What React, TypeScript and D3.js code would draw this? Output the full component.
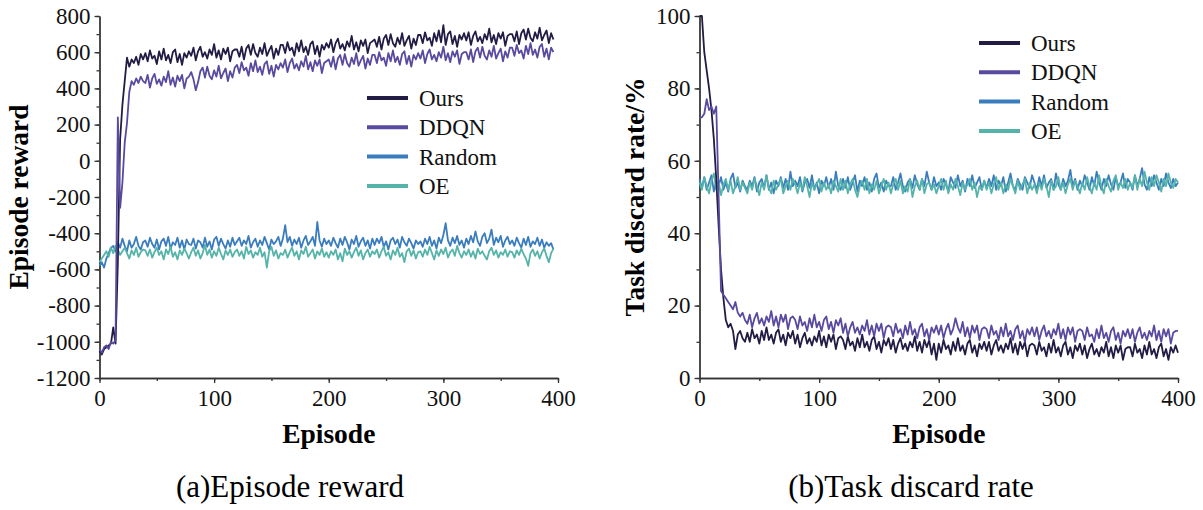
import * as d3 from "d3";
import React, { useRef, useEffect } from "react";

// series order: Ours, DDQN, Random, OE
const seriesNames = ["Ours", "DDQN", "Random", "OE"];
const seriesColors = ["#221c45", "#5a4a9f", "#3a7dbe", "#55b4aa"];
const drawOrder = [2, 3, 0, 1];
const STEP = 2; // episodes between samples

// (a) episode reward, episodes 0..396
const rewardOurs = [
  -1050, -1070, -1040, -1030, -1020, -1010, -920, -1010, -560, 120, 310, 440, 570, 520, 560, 540, 575, 530, 590, 560,
  595, 550, 610, 565, 580, 535, 605, 560, 620, 555, 585, 540, 600, 615, 545, 590, 530, 595, 570, 605,
  580, 625, 555, 605, 630, 575, 600, 565, 615, 585, 645, 570, 610, 560, 620, 590, 625, 550, 605, 615,
  615, 575, 630, 560, 620, 640, 585, 645, 595, 575, 625, 590, 650, 580, 610, 635, 565, 620, 585, 640,
  640, 595, 655, 610, 625, 580, 650, 605, 665, 600, 630, 585, 645, 660, 590, 635, 575, 640, 615, 650,
  625, 670, 600, 650, 675, 620, 645, 610, 660, 630, 690, 615, 655, 605, 665, 635, 670, 595, 650, 660,
  670, 630, 685, 615, 675, 695, 640, 700, 650, 630, 680, 645, 705, 635, 665, 690, 620, 675, 640, 695,
  695, 650, 710, 665, 680, 635, 705, 660, 720, 655, 750, 640, 700, 715, 645, 690, 630, 695, 670, 705,
  665, 710, 640, 690, 715, 660, 685, 650, 700, 670, 730, 655, 695, 645, 705, 675, 710, 635, 690, 700,
  700, 660, 715, 645, 705, 725, 670, 730, 680, 660, 710, 675, 735, 665, 695, 720, 650, 705, 670,
];
const rewardDDQN = [
  -1040, -1060, -1030, -1020, -1040, -1000, -1010, -990, 240, -260, -120, 100, 210, 380, 440, 420, 455, 430, 465, 440,
  430, 475, 405, 455, 480, 425, 450, 415, 465, 435, 495, 420, 460, 410, 470, 440, 475, 400, 455, 465,
  490, 450, 390, 435, 495, 515, 460, 520, 470, 450, 500, 465, 525, 455, 485, 510, 440, 495, 460, 515,
  530, 485, 545, 500, 515, 470, 540, 495, 555, 490, 520, 475, 535, 550, 480, 525, 465, 530, 505, 540,
  515, 560, 490, 540, 565, 510, 535, 500, 550, 520, 580, 505, 545, 495, 555, 525, 560, 485, 540, 550,
  560, 520, 575, 505, 565, 585, 530, 590, 540, 520, 570, 535, 595, 525, 555, 580, 510, 565, 530, 585,
  585, 540, 600, 555, 570, 525, 595, 550, 610, 545, 575, 530, 590, 605, 535, 580, 520, 585, 560, 595,
  565, 610, 540, 590, 615, 560, 585, 550, 600, 570, 630, 555, 595, 545, 605, 575, 610, 535, 590, 600,
  600, 560, 615, 545, 605, 625, 570, 630, 580, 560, 610, 575, 635, 565, 595, 620, 550, 605, 570, 625,
  625, 580, 640, 595, 610, 565, 635, 590, 650, 585, 615, 570, 630, 645, 575, 620, 560, 625, 600,
];
const rewardRandom = [
  -580, -560, -590, -540, -510, -480, -470, -500, -450, -480, -430, -470, -500, -440, -480, -460, -420, -470, -490, -450,
  -440, -475, -425, -460, -480, -435, -490, -445, -430, -470, -420, -485, -450, -465, -425, -480, -440, -490, -435, -460,
  -465, -430, -485, -440, -450, -480, -425, -475, -445, -490, -435, -420, -470, -430, -460, -485, -440, -475, -425, -465,
  -445, -425, -470, -440, -460, -415, -480, -450, -430, -475, -440, -465, -420, -455, -490, -435, -460, -445, -420, -470,
  -430, -355, -450, -420, -470, -435, -460, -425, -480, -440, -415, -465, -445, -420, -470, -338, -440, -475, -430, -460,
  -440, -470, -425, -455, -480, -430, -465, -420, -450, -490, -435, -460, -415, -475, -445, -425, -470, -440, -485, -430,
  -465, -430, -455, -420, -475, -445, -490, -440, -425, -460, -435, -480, -420, -450, -470, -430, -455, -485, -440, -460,
  -445, -475, -430, -460, -420, -470, -440, -485, -425, -455, -410, -345, -440, -470, -425, -455, -415, -465, -440, -480,
  -430, -460, -415, -450, -390, -445, -470, -420, -400, -455, -430, -380, -465, -425, -450, -415, -475, -440, -420, -460,
  -440, -470, -425, -455, -480, -430, -465, -420, -475, -445, -460, -425, -470, -435, -480, -450, -470, -455, -490,
];
const rewardOE = [
  -560, -540, -520, -500, -530, -480, -510, -470, -490, -520, -500, -480, -510, -540, -495, -520, -480, -530, -505, -490,
  -495, -525, -490, -535, -505, -480, -520, -500, -545, -490, -515, -475, -530, -505, -545, -495, -520, -485, -510, -540,
  -505, -480, -525, -495, -540, -510, -465, -520, -490, -535, -500, -525, -480, -515, -545, -495, -520, -490, -530, -505,
  -490, -525, -500, -540, -475, -515, -495, -535, -505, -520, -480, -530, -505, -590, -500, -475, -525, -495, -540, -510,
  -520, -490, -535, -505, -480, -525, -500, -545, -495, -515, -475, -530, -510, -490, -540, -500, -520, -485, -530, -505,
  -535, -500, -520, -490, -545, -510, -555, -485, -520, -500, -535, -505, -480, -525, -495, -545, -510, -490, -530, -500,
  -515, -490, -535, -500, -475, -525, -505, -545, -495, -520, -480, -530, -510, -560, -500, -485, -525, -495, -540, -505,
  -500, -530, -490, -520, -475, -510, -545, -495, -525, -490, -515, -480, -535, -505, -490, -525, -470, -510, -535, -500,
  -520, -490, -530, -500, -540, -485, -515, -500, -525, -545, -500, -480, -520, -495, -535, -505, -520, -490, -530, -500,
  -505, -535, -495, -520, -485, -515, -540, -580, -510, -490, -525, -500, -540, -505, -485, -525, -560, -510, -485,
];

// (b) task discard rate (%), episodes 0..400
const discardOurs = [
  100, 100, 90, 85, 80, 74, 66, 55, 42, 30, 22, 16, 14, 15, 13, 8, 12, 13, 11, 10,
  12.5, 10, 13.5, 11, 12, 9.5, 13, 10.5, 14, 10.5, 12, 9.5, 12.5, 13.5, 10, 12, 9, 12.5, 11, 13,
  9.5, 12, 8.5, 11, 12.5, 9.5, 11, 9, 11.5, 10, 13, 9, 11.5, 8.5, 12, 10, 12, 8, 11, 11.5,
  10.5, 8, 11.5, 9, 10, 7.5, 11, 8.5, 12, 8.5, 10, 7.5, 10.5, 11.5, 8, 10, 7, 10.5, 9, 11,
  8, 10.5, 7, 9.5, 11, 8, 9.5, 7.5, 10, 8.5, 11.5, 7.5, 10, 7, 10.5, 8.5, 10.5, 6.5, 9.5, 5,
  9.5, 7, 10.5, 8, 9, 6.5, 10, 7.5, 11, 7.5, 9, 6.5, 9.5, 10.5, 7, 9, 6, 9.5, 8, 10,
  7.5, 10, 6.5, 9, 10.5, 7.5, 9, 7, 9.5, 8, 11, 7, 9.5, 6.5, 10, 8, 10, 6, 9, 9.5,
  9, 6.5, 10, 7.5, 8.5, 6, 9.5, 7, 10.5, 7, 8.5, 6, 9, 10, 6.5, 8.5, 5.5, 9, 7.5, 9.5,
  6.5, 9, 5.5, 8, 9.5, 6.5, 8, 6, 8.5, 7, 10, 6, 8.5, 5.5, 9, 7, 9, 5, 8, 8.5,
  8.5, 6, 9.5, 7, 8, 5.5, 9, 6.5, 10, 6.5, 8, 5.5, 8.5, 9.5, 6, 8, 5, 8.5, 7, 9, 7,
];
const discardDDQN = [
  72, 72, 73, 77, 74, 75, 73, 75, 50, 24, 23, 22, 21, 20, 19, 21, 18, 17, 18, 16,
  15, 17.5, 14, 16.5, 18, 15, 16.5, 14.5, 17, 15.5, 18.5, 14.5, 17, 14, 17.5, 15.5, 17.5, 13.5, 16.5, 17,
  16, 13.5, 17, 14.5, 15.5, 13, 16.5, 14, 17.5, 14, 15.5, 13, 16, 17, 13.5, 15.5, 12.5, 16, 14.5, 16.5,
  12.5, 15, 11.5, 14, 15.5, 12.5, 14, 12, 14.5, 13, 16, 12, 14.5, 11.5, 15, 13, 15, 11, 14, 14.5,
  14, 11.5, 15, 12.5, 13.5, 11, 14.5, 12, 15.5, 12, 13.5, 11, 14, 15, 11.5, 13.5, 10.5, 14, 12.5, 14.5,
  12, 14.5, 11, 13.5, 15, 12, 13.5, 16.5, 14, 12.5, 15.5, 11.5, 14, 11, 14.5, 12.5, 14.5, 10.5, 13.5, 14,
  13.5, 11, 14.5, 12, 13, 10.5, 14, 11.5, 15, 11.5, 13, 10.5, 13.5, 14.5, 11, 13, 10, 13.5, 12, 14,
  11.5, 14, 10.5, 13, 14.5, 11.5, 13, 11, 13.5, 12, 15, 11, 13.5, 10.5, 14, 12, 14, 10, 13, 13.5,
  13, 10.5, 14, 11.5, 12, 10, 13.5, 11, 14.5, 11, 12.5, 10, 13, 14, 10.5, 12.5, 9.5, 13, 11.5, 13.5,
  11, 13.5, 10, 12.5, 14, 11, 12.5, 10.5, 13, 11.5, 14.5, 10.5, 13, 10, 13.5, 11.5, 13.5, 9.5, 12.5, 13, 13,
];
const discardRandom = [
  55, 52.5, 55.5, 52, 54, 56, 51.5, 54.5, 53, 55.5, 52, 54, 51.5, 55, 56.5, 52.5, 54, 51.5, 54.5, 53,
  52, 54.5, 53, 55.5, 51.5, 54, 55, 52.5, 56, 52, 54, 51, 54.5, 53, 55.5, 52.5, 55, 52, 57, 53,
  54.5, 53, 55.5, 51.5, 54, 55, 52.5, 56, 52, 54, 51, 54.5, 53, 55.5, 52.5, 55, 52, 57, 53, 52,
  55, 52.5, 55.5, 52, 54, 56, 51.5, 54.5, 53, 55.5, 52, 54, 51.5, 55, 56.5, 52.5, 54, 51.5, 54.5, 53,
  53, 55.5, 52, 54, 56.5, 53, 51.5, 54, 55, 52.5, 56, 53.5, 52, 55, 53, 57, 54, 52, 55.5, 53,
  54, 52, 55, 53.5, 51.5, 55.5, 54, 52.5, 56, 53, 54.5, 51.5, 55, 53, 56, 52.5, 54, 55.5, 52, 54.5,
  52.5, 55, 53, 56, 52, 54.5, 53, 55.5, 51.5, 54, 56.5, 53, 52, 55, 53.5, 52, 55.5, 54, 52.5, 56,
  54, 52, 55.5, 53, 56, 52.5, 54, 55, 52, 56.5, 53.5, 52, 55, 53, 54.5, 57.5, 53, 55, 52, 54.5,
  53, 56, 54, 52, 55.5, 53, 57, 54, 52, 55, 53, 56, 53.5, 52, 55.5, 53, 54, 56.5, 52.5, 55,
  54, 52, 56, 53, 55, 58, 53.5, 52, 55.5, 53, 56, 54, 52, 55, 53, 56.5, 54, 52.5, 55, 53, 54,
];
const discardOE = [
  54, 52, 55.5, 53, 51, 54.5, 56.5, 52, 54, 50.5, 53.5, 55, 52, 54.5, 51, 53, 55.5, 52, 54, 52.5,
  51, 54, 52, 55, 53, 50.5, 54, 52, 56, 52.5, 51, 54.5, 52, 53.5, 55, 51, 53, 54.5, 52, 55,
  53.5, 51, 54, 52, 55.5, 53, 50, 54, 52, 53.5, 55, 51.5, 54, 52, 53.5, 51, 54.5, 53, 51.5, 55,
  52, 54.5, 51, 53.5, 55, 52, 50, 53, 54.5, 52, 55, 51, 53.5, 52, 54.5, 51, 53, 55, 52, 54,
  51, 53.5, 55, 52, 54.5, 51, 53, 51.5, 55, 50, 53, 54.5, 52, 55, 51, 53.5, 54, 52, 53.5, 51,
  53, 55, 52, 54.5, 51, 53.5, 52, 55, 53, 50.5, 54, 52, 53.5, 55, 52, 54, 50, 53, 52, 54.5,
  52, 54, 51, 53.5, 55.5, 52, 54, 51, 53.5, 52, 55, 53, 51, 54.5, 52, 53.5, 55, 51, 54, 52,
  53.5, 51, 54, 52, 55, 53, 50, 54.5, 52, 53, 55.5, 52, 54, 51, 53.5, 55, 52, 54.5, 53, 51,
  54, 52, 55.5, 53, 51, 54, 52, 56, 53, 51, 55, 53, 51.5, 54.5, 56, 52, 54, 52.5, 55, 52,
  54, 52.5, 56, 52, 55, 53, 57, 54, 52, 55.5, 53, 56, 54, 51.5, 55, 53, 56.5, 54, 52.5, 55, 54,
];

const FONT = "'Liberation Serif', 'Times New Roman', serif";

const drawPanel = (svg, cfg) => {
  const x = d3.scaleLinear().domain([0, 400]).range([cfg.left, cfg.right]);
  const y = d3.scaleLinear().domain(cfg.yDomain).range([cfg.bottom, cfg.top]);
  const g = svg.append("g");

  // minor ticks
  g.append("g")
    .attr("transform", `translate(${cfg.left},0)`)
    .call(d3.axisLeft(y).tickValues(d3.range(cfg.yDomain[0], cfg.yDomain[1] + 1, cfg.yMinor)).tickSize(3).tickFormat(() => "").tickSizeOuter(0));
  g.append("g")
    .attr("transform", `translate(0,${cfg.bottom})`)
    .call(d3.axisBottom(x).tickValues(d3.range(0, 401, 50)).tickSize(3).tickFormat(() => "").tickSizeOuter(0));

  // major ticks
  g.append("g")
    .attr("transform", `translate(${cfg.left},0)`)
    .call(d3.axisLeft(y).tickValues(d3.range(cfg.yDomain[0], cfg.yDomain[1] + 1, cfg.yMajor)).tickSize(5).tickPadding(4).tickSizeOuter(0).tickFormat((d) => String(d)));
  g.append("g")
    .attr("transform", `translate(0,${cfg.bottom})`)
    .call(d3.axisBottom(x).tickValues(d3.range(0, 401, 100)).tickSize(5).tickPadding(7).tickSizeOuter(0).tickFormat((d) => String(d)));

  g.selectAll("text").attr("font-family", FONT).attr("font-size", 23).attr("fill", "#111");
  g.selectAll("line, path").attr("stroke", "#333").attr("stroke-width", 1.3);

  const line = d3.line().x((d, i) => x(i * STEP)).y((d) => y(d));
  drawOrder.forEach((k) => {
    g.append("path")
      .datum(cfg.data[k])
      .attr("d", line)
      .attr("fill", "none")
      .attr("stroke", seriesColors[k])
      .attr("stroke-width", 1.8)
      .attr("stroke-linejoin", "round");
  });

  // legend
  seriesNames.forEach((name, k) => {
    const ly = cfg.legendY + k * 29.3;
    g.append("line")
      .attr("x1", cfg.legendX).attr("x2", cfg.legendX + 41)
      .attr("y1", ly).attr("y2", ly)
      .attr("stroke", seriesColors[k]).attr("stroke-width", 4);
    g.append("text")
      .attr("x", cfg.legendX + 52).attr("y", ly + 8)
      .attr("font-family", FONT).attr("font-size", 23).attr("fill", "#111")
      .text(name);
  });

  // titles
  g.append("text")
    .attr("transform", `translate(${cfg.yTitleX},197) rotate(-90)`)
    .attr("text-anchor", "middle")
    .attr("font-family", FONT).attr("font-size", 27.5).attr("font-weight", "bold")
    .text(cfg.yTitle);
  g.append("text")
    .attr("x", (cfg.left + cfg.right) / 2).attr("y", 443)
    .attr("text-anchor", "middle")
    .attr("font-family", FONT).attr("font-size", 27.5).attr("font-weight", "bold")
    .text("Episode");
  g.append("text")
    .attr("x", cfg.captionX).attr("y", 497)
    .attr("text-anchor", "middle")
    .attr("font-family", FONT).attr("font-size", 31)
    .text(cfg.caption);
};

const App = () => {
  const ref = useRef(null);

  useEffect(() => {
    const svg = d3.select(ref.current);
    svg.selectAll("*").remove();

    drawPanel(svg, {
      left: 99.5, right: 558, top: 16, bottom: 378,
      yDomain: [-1200, 800], yMajor: 200, yMinor: 100,
      data: [rewardOurs, rewardDDQN, rewardRandom, rewardOE],
      legendX: 367, legendY: 98,
      yTitle: "Episode reward", yTitleX: 28,
      caption: "(a)Episode reward", captionX: 290,
    });

    drawPanel(svg, {
      left: 699.5, right: 1178, top: 16, bottom: 378,
      yDomain: [0, 100], yMajor: 20, yMinor: 10,
      data: [discardOurs, discardDDQN, discardRandom, discardOE],
      legendX: 979, legendY: 43,
      yTitle: "Task discard rate/%", yTitleX: 644,
      caption: "(b)Task discard rate", captionX: 911,
    });
  }, []);

  return (
    <svg
      ref={ref}
      width={1203}
      height={510}
      style={{ position: "absolute", left: 0, top: 0, background: "#fff" }}
    />
  );
};

export default App;
